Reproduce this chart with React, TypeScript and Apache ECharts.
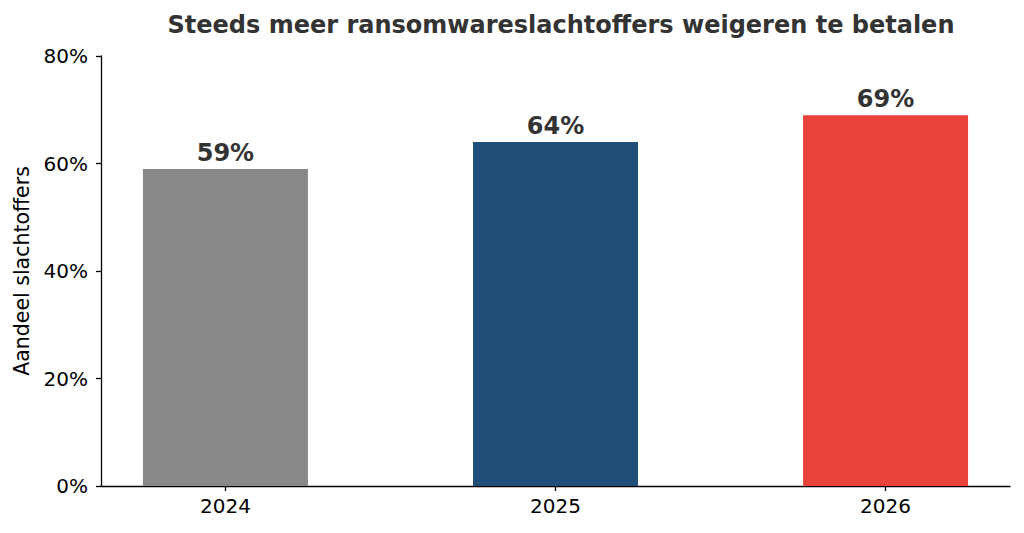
import React, { useEffect, useRef } from "react";
import * as echarts from "echarts";

const categories = ["2024", "2025", "2026"];
const values = [59, 64, 69];
const colors = ["#888888", "#1f4e79", "#e8423b"];
const yTicks = [0, 20, 40, 60, 80];

export default function App() {
  const ref = useRef<HTMLDivElement>(null);
  useEffect(() => {
    document.body.style.margin = "0";
    const chart = echarts.init(ref.current!, null, { renderer: "svg" });
    const font = "DejaVu Sans";
    chart.setOption({
      animation: false,
      backgroundColor: "#ffffff",
      title: {
        text: "Steeds meer ransomwareslachtoffers weigeren te betalen",
        left: 556,
        textAlign: "center",
        top: 8,
        textStyle: { fontFamily: font, fontSize: 24, fontWeight: "bold", color: "#333333" },
      },
      grid: { left: 101, right: 14, top: 56, bottom: 47 },
      xAxis: {
        type: "value",
        min: -0.377,
        max: 2.377,
        splitLine: { show: false },
        axisLine: { show: true, onZero: false, lineStyle: { color: "#000", width: 1.3 } },
        axisTick: { show: true, customValues: [0, 1, 2], length: 5, lineStyle: { color: "#000", width: 1.3 } },
        axisLabel: {
          customValues: [0, 1, 2],
          formatter: (v: number) => categories[Math.round(v)] ?? "",
          fontFamily: font,
          fontSize: 20,
          color: "#000",
          margin: 10,
        },
      },
      yAxis: {
        type: "value",
        min: 0,
        max: 80,
        interval: 20,
        name: "Aandeel slachtoffers",
        nameLocation: "middle",
        nameGap: 69,
        nameTextStyle: { fontFamily: font, fontSize: 20.5, color: "#000" },
        splitLine: { show: false },
        axisLine: { show: true, onZero: false, lineStyle: { color: "#000", width: 1.3 } },
        axisTick: { show: true, length: 5, lineStyle: { color: "#000", width: 1.3 } },
        axisLabel: {
          formatter: (v: number) => (yTicks.includes(v) ? v + "%" : ""),
          fontFamily: font,
          fontSize: 20,
          color: "#000",
          margin: 13,
        },
      },
      series: [
        {
          type: "bar",
          barWidth: 165,
          data: values.map((v, i) => ({ value: [i, v], itemStyle: { color: colors[i] } })),
          label: {
            show: true,
            position: "top",
            distance: 4,
            formatter: (p: any) => p.value[1] + "%",
            fontFamily: font,
            fontSize: 24,
            fontWeight: "bold",
            color: "#333333",
          },
        },
      ],
    });
    return () => chart.dispose();
  }, []);
  return <div ref={ref} style={{ width: 1024, height: 533 }} />;
}
